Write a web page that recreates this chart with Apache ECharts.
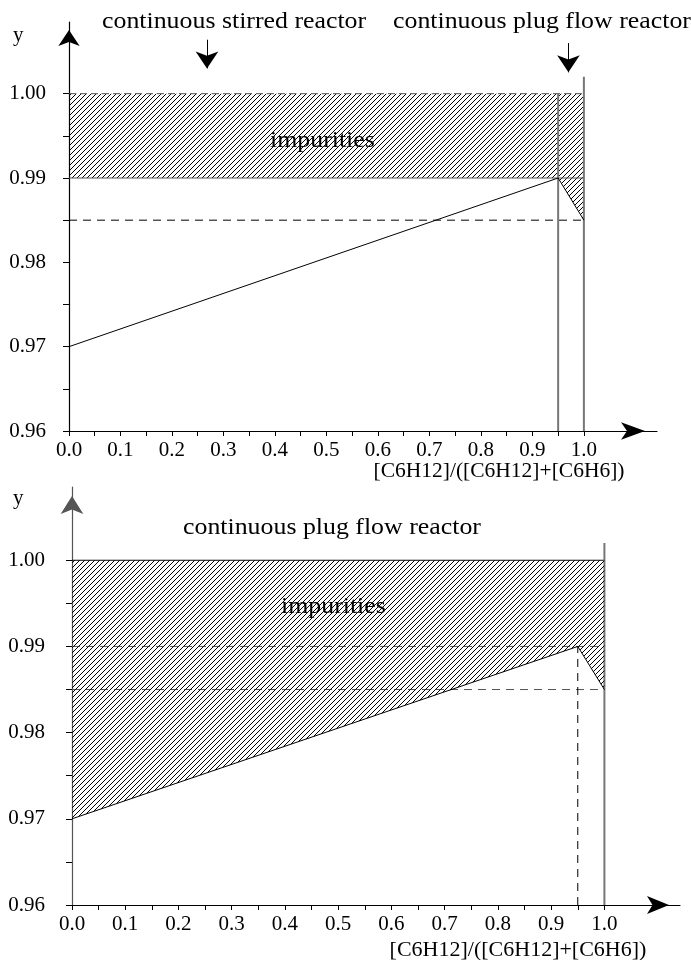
<!DOCTYPE html>
<html>
<head>
<meta charset="utf-8">
<script src="https://cdn.jsdelivr.net/npm/echarts@6/dist/echarts.min.js"></script>
<style>
html, body { margin: 0; padding: 0; background: #fff; }
#main { width: 691px; height: 960px; }
</style>
</head>
<body>
<div id="main"></div>
<script>
// axis ticks and labels
var xTickValues = [0, 0.05, 0.1, 0.15, 0.2, 0.25, 0.3, 0.35, 0.4, 0.45, 0.5,
                   0.55, 0.6, 0.65, 0.7, 0.75, 0.8, 0.85, 0.9, 0.95, 1.0];
var xLabelValues = [0, 0.1, 0.2, 0.3, 0.4, 0.5, 0.6, 0.7, 0.8, 0.9, 1.0];
var yTickValues = [0.96, 0.965, 0.97, 0.975, 0.98, 0.985, 0.99, 0.995, 1.0];
var yLabelValues = [0.96, 0.97, 0.98, 0.99, 1.0];

// yield profile y vs conversion
var profileX = [0, 0.95, 1.0];
var profileY = [0.97, 0.99, 0.985];
// lower edge of the impurity band in the stirred reactor case
var stirredEdgeY = [0.99, 0.99, 0.985];

var yTop = 1.0;       // pure product
var ySpec = 0.99;
var yLimit = 0.985;
var xSwitch = 0.95;
var xEnd = 1.0;
var xEndLineTop = 1.002;

// annotation arrows: [x, yStart, yEnd]
var stirredArrow = [0.268, 1.0064, 1.0030];
var plugArrow = [0.970, 1.0060, 1.00253];

var FONT = '"Liberation Serif", "DejaVu Serif", serif';

// diagonal hatching
function hatchPattern() {
    var s = 5;
    var c = document.createElement('canvas');
    c.width = s;
    c.height = s;
    var g = c.getContext('2d');
    g.strokeStyle = '#000';
    g.lineWidth = 1;
    g.beginPath();
    g.moveTo(-1, s + 1); g.lineTo(s + 1, -1);
    g.moveTo(-1, 1); g.lineTo(1, -1);
    g.moveTo(s - 1, s + 1); g.lineTo(s + 1, s - 1);
    g.stroke();
    return { image: c, repeat: 'repeat' };
}

function pts(xs, ys) {
    return xs.map(function (x, i) { return [x, ys[i]]; });
}

function seg(x1, y1, x2, y2, idx, color, width, type) {
    return {
        type: 'line',
        xAxisIndex: idx, yAxisIndex: idx,
        data: [[x1, y1], [x2, y2]],
        symbol: 'none',
        silent: true,
        lineStyle: { color: color, width: width, type: type || 'solid' },
        z: 3
    };
}

function xAxisFor(idx, arrow) {
    return {
        type: 'value', gridIndex: idx, min: 0, max: 1.142,
        splitLine: { show: false },
        axisLine: {
            show: true, onZero: false,
            lineStyle: { color: '#000', width: 1.2 },
            symbol: ['none', 'arrow'], symbolSize: arrow, symbolOffset: [0, -arrow[1] / 2]
        },
        axisTick: { show: true, inside: false, length: 5, customValues: xTickValues,
                    lineStyle: { color: '#000' } },
        axisLabel: {
            show: true, customValues: xLabelValues, margin: 9,
            color: '#000', fontFamily: FONT, fontSize: 21,
            formatter: function (v) { return v.toFixed(1); }
        }
    };
}

function yAxisFor(idx, arrow, margin, color) {
    return {
        type: 'value', gridIndex: idx, min: 0.96, max: 1.0085,
        splitLine: { show: false },
        axisLine: {
            show: true, onZero: false,
            lineStyle: { color: color, width: 1.2 },
            symbol: ['none', 'arrow'], symbolSize: arrow, symbolOffset: [0, -arrow[1] / 2]
        },
        axisTick: { show: true, inside: false, length: 6, customValues: yTickValues,
                    lineStyle: { color: '#000' } },
        axisLabel: {
            show: true, customValues: yLabelValues, margin: margin,
            color: '#000', fontFamily: FONT, fontSize: 21,
            formatter: function (v) { return v.toFixed(2); }
        }
    };
}

function arrowLine(a) {
    return [{ coord: [a[0], a[1]] }, { coord: [a[0], a[2]] }];
}

var hatch = hatchPattern();
var myChart = echarts.init(document.getElementById('main'));

var series = [
    // ---- top: stirred + plug flow ----
    {
        type: 'line', xAxisIndex: 0, yAxisIndex: 0,
        data: pts(profileX, stirredEdgeY),
        symbol: 'none', silent: true,
        lineStyle: { width: 0 },
        areaStyle: { color: hatch, opacity: 1, origin: yTop },
        z: 1,
        markLine: {
            silent: true, animation: false,
            symbol: ['none', 'arrow'], symbolSize: [17, 17],
            label: { show: false },
            lineStyle: { color: '#000', width: 1, type: 'solid' },
            data: [arrowLine(stirredArrow), arrowLine(plugArrow)]
        }
    },
    seg(0, yTop, xEnd, yTop, 0, '#555', 1, [7, 4]),
    seg(0, ySpec, xEnd, ySpec, 0, '#555', 1.2),
    seg(0, yLimit, xEnd, yLimit, 0, '#000', 1, [8, 6]),
    seg(xSwitch, 0.96, xSwitch, yTop, 0, '#777', 2),
    seg(xEnd, 0.96, xEnd, xEndLineTop, 0, '#777', 2),
    {
        type: 'line', xAxisIndex: 0, yAxisIndex: 0,
        data: pts(profileX, profileY),
        symbol: 'none', silent: true,
        lineStyle: { color: '#000', width: 1 }, z: 4
    },

    // ---- bottom: plug flow only ----
    {
        type: 'line', xAxisIndex: 1, yAxisIndex: 1,
        data: pts(profileX, profileY),
        symbol: 'none', silent: true,
        lineStyle: { color: '#000', width: 1 },
        areaStyle: { color: hatch, opacity: 1, origin: yTop },
        z: 4
    },
    seg(0, yTop, xEnd, yTop, 1, '#000', 1),
    seg(0, ySpec, xEnd, ySpec, 1, '#555', 1, [8, 6]),
    seg(0, yLimit, xEnd, yLimit, 1, '#555', 1, [8, 6]),
    seg(xSwitch, 0.96, xSwitch, ySpec, 1, '#000', 1, [8, 6]),
    seg(xEnd, 0.96, xEnd, xEndLineTop, 1, '#777', 2)
];

function text(x, y, s, size, sx, align) {
    return {
        type: 'text', x: x, y: y, scaleX: sx || 1, silent: true, z: 10,
        style: {
            text: s, font: size + 'px ' + FONT, fill: '#000',
            textAlign: align || 'left', textVerticalAlign: 'middle'
        }
    };
}

var option = {
    backgroundColor: '#fff',
    animation: false,
    grid: [
        { left: 69, top: 22, width: 588, height: 409, outerBoundsMode: 'none', containLabel: false },
        { left: 72, top: 487, width: 608, height: 418, outerBoundsMode: 'none', containLabel: false }
    ],
    xAxis: [xAxisFor(0, [13, 24]), xAxisFor(1, [13.5, 22])],
    yAxis: [yAxisFor(0, [16, 16], 23, '#000'), yAxisFor(1, [17, 18], 27, '#555')],
    graphic: [
        text(13, 35, 'y', 21),
        text(102, 22, 'continuous stirred reactor', 23.5, 1.1),
        text(393, 22, 'continuous plug flow reactor', 23.5, 1.1),
        text(270, 141, 'impurities', 23.5, 1.1),
        text(499, 471, '[C6H12]/([C6H12]+[C6H6])', 21.5, 1, 'center'),
        text(13, 498, 'y', 21),
        text(183, 528, 'continuous plug flow reactor', 23.5, 1.1),
        text(281, 607, 'impurities', 23.5, 1.1),
        text(518, 950, '[C6H12]/([C6H12]+[C6H6])', 22, 1, 'center')
    ],
    series: series
};

myChart.setOption(option);
</script>
</body>
</html>
